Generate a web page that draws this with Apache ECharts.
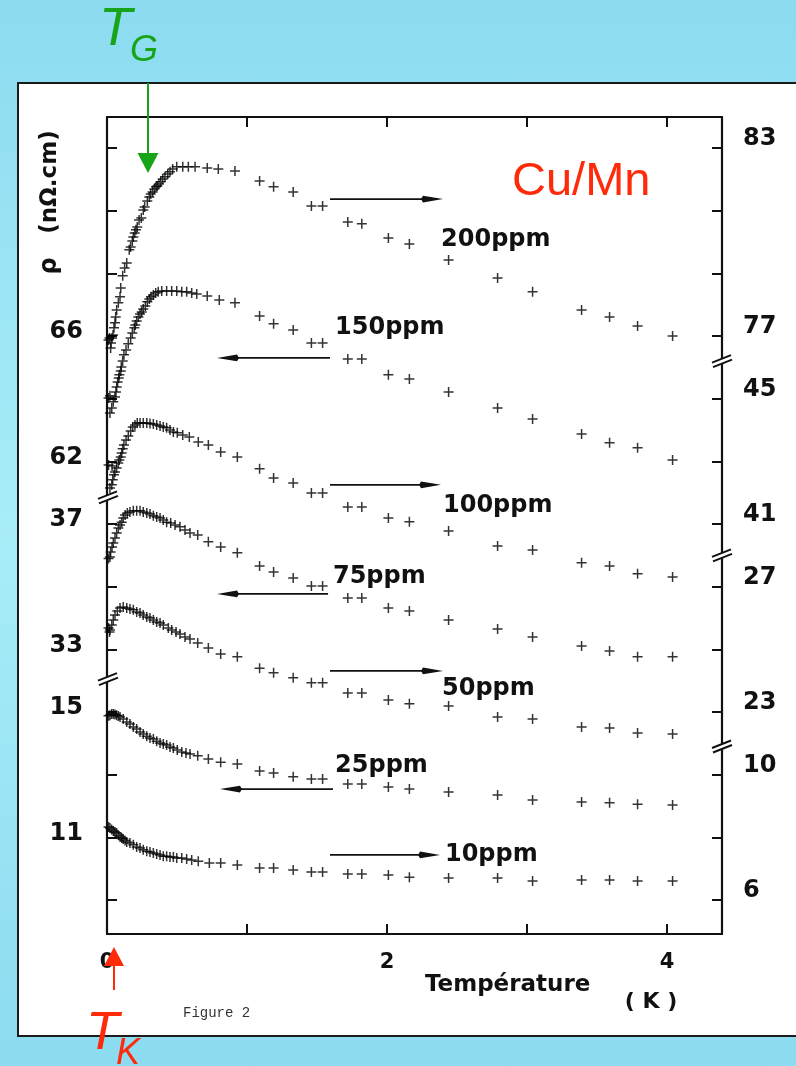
<!DOCTYPE html>
<html>
<head>
<meta charset="utf-8">
<script src="https://cdn.jsdelivr.net/npm/echarts@6/dist/echarts.min.js"></script>
<style>
  html, body { margin: 0; padding: 0; width: 796px; height: 1066px; overflow: hidden;
    background: linear-gradient(to bottom, #8cdbf0 0%, #a8edf8 50%, #8cdbf0 100%); }
  #panel { position: absolute; left: 17px; top: 82px; width: 800px; height: 955px;
    background: #fff; border: 2px solid #1b1b1b; box-sizing: border-box; }
  #chart { position: absolute; left: 0; top: 0; width: 796px; height: 1066px; }
</style>
</head>
<body>
<div id="panel"></div>
<div id="chart"></div>
<script>
// Resistivity ρ (nΩ.cm) versus temperature T (K), one list of [T, ρ] per Mn concentration
const ppm200 = [[0.011,76.87],[0.018,76.94],[0.026,76.62],[0.029,76.78],[0.036,76.94],[0.043,77.03],[0.050,77.26],[0.057,77.42],[0.062,77.61],[0.069,77.83],
  [0.081,78.06],[0.093,78.25],[0.098,78.53],[0.112,78.92],[0.126,79.17],[0.141,79.33],[0.159,79.75],[0.169,79.84],[0.181,80.03],[0.188,80.16],
  [0.198,80.29],[0.207,80.39],[0.216,80.48],[0.229,80.70],[0.245,80.77],[0.259,81.02],[0.269,81.12],[0.288,81.31],[0.302,81.44],[0.312,81.53],
  [0.326,81.60],[0.338,81.69],[0.350,81.76],[0.359,81.79],[0.371,81.85],[0.384,81.92],[0.398,82.01],[0.414,82.08],[0.434,82.17],[0.450,82.24],
  [0.469,82.33],[0.498,82.40],[0.541,82.40],[0.581,82.40],[0.629,82.40],[0.716,82.36],[0.795,82.33],[0.914,82.27],
  [1.09,81.95],[1.19,81.76],[1.33,81.60],[1.46,81.15],[1.54,81.15],[1.72,80.64],[1.82,80.58],[2.01,80.13],[2.16,79.94],[2.44,79.43],
  [2.79,78.85],[3.04,78.41],[3.39,77.83],[3.59,77.61],[3.79,77.32],[4.04,77.00]];

const ppm150 = [[0.011,64.02],[0.021,64.09],[0.021,63.54],[0.034,63.70],[0.045,63.90],[0.057,64.05],[0.064,64.21],[0.069,64.37],[0.076,64.53],[0.084,64.66],
  [0.088,64.76],[0.098,64.88],[0.102,65.01],[0.112,65.20],[0.121,65.40],[0.136,65.55],[0.152,65.75],[0.169,65.94],[0.181,66.10],[0.195,66.26],
  [0.202,66.35],[0.212,66.48],[0.224,66.61],[0.236,66.70],[0.248,66.77],[0.259,66.86],[0.274,66.96],[0.288,67.09],[0.302,67.18],[0.314,67.25],
  [0.331,67.31],[0.348,67.37],[0.366,67.41],[0.391,67.44],[0.426,67.44],[0.462,67.44],[0.498,67.44],[0.534,67.41],[0.569,67.41],[0.605,67.37],
  [0.641,67.34],[0.716,67.28],[0.802,67.15],[0.914,67.06],
  [1.09,66.64],[1.19,66.39],[1.33,66.19],[1.46,65.78],[1.54,65.78],[1.72,65.27],[1.82,65.27],[2.01,64.76],[2.16,64.63],[2.44,64.21],
  [2.79,63.70],[3.04,63.35],[3.39,62.87],[3.59,62.59],[3.79,62.43],[4.04,62.04]];

const ppm100 = [[0.011,42.88],[0.021,42.15],[0.034,42.25],[0.036,42.85],[0.041,42.41],[0.050,42.57],[0.057,42.66],[0.069,42.79],[0.081,42.95],[0.088,43.04],
  [0.098,43.14],[0.105,43.27],[0.112,43.40],[0.121,43.52],[0.136,43.68],[0.152,43.81],[0.169,43.97],[0.184,44.10],[0.200,44.16],[0.216,44.22],
  [0.236,44.22],[0.259,44.22],[0.284,44.22],[0.307,44.21],[0.331,44.19],[0.355,44.16],[0.379,44.13],[0.402,44.10],[0.426,44.07],[0.450,44.00],
  [0.474,43.94],[0.502,43.91],[0.541,43.84],[0.588,43.78],[0.652,43.62],[0.724,43.52],[0.812,43.30],[0.931,43.14],
  [1.09,42.76],[1.19,42.47],[1.33,42.31],[1.46,41.99],[1.54,41.99],[1.72,41.54],[1.82,41.54],[2.01,41.19],[2.16,41.07],[2.44,40.78],
  [2.79,40.30],[3.04,40.17],[3.39,39.76],[3.59,39.66],[3.79,39.41],[4.04,39.31]];

const ppm75 = [[0.011,35.90],[0.021,35.95],[0.026,36.11],[0.036,36.27],[0.045,36.39],[0.057,36.55],[0.069,36.71],[0.081,36.87],[0.093,36.97],[0.105,37.06],
  [0.116,37.19],[0.129,37.29],[0.145,37.35],[0.164,37.38],[0.188,37.42],[0.212,37.42],[0.236,37.42],[0.259,37.38],[0.284,37.35],[0.307,37.32],
  [0.331,37.26],[0.355,37.22],[0.379,37.19],[0.402,37.13],[0.426,37.06],[0.455,37.03],[0.486,36.97],[0.521,36.91],[0.557,36.81],[0.593,36.71],
  [0.648,36.65],[0.724,36.43],[0.812,36.27],[0.931,36.08],
  [1.09,35.66],[1.19,35.47],[1.33,35.28],[1.46,35.02],[1.54,35.02],[1.72,34.64],[1.82,34.64],[2.01,34.32],[2.16,34.22],[2.44,33.94],
  [2.79,33.65],[3.04,33.39],[3.39,33.11],[3.59,32.95],[3.79,32.76],[4.04,32.76]];

const ppm50 = [[0.011,25.68],[0.018,25.55],[0.021,25.62],[0.034,25.78],[0.045,25.94],[0.057,26.10],[0.074,26.22],[0.093,26.32],[0.116,26.35],[0.141,26.32],
  [0.164,26.29],[0.188,26.26],[0.212,26.19],[0.236,26.16],[0.259,26.10],[0.284,26.03],[0.307,26.00],[0.331,25.94],[0.355,25.87],[0.379,25.84],
  [0.402,25.78],[0.438,25.68],[0.462,25.62],[0.493,25.55],[0.521,25.49],[0.557,25.39],[0.593,25.33],[0.648,25.20],[0.724,25.04],[0.812,24.85],
  [0.931,24.76],
  [1.09,24.40],[1.19,24.25],[1.33,24.09],[1.46,23.93],[1.54,23.93],[1.72,23.61],[1.82,23.61],[2.01,23.38],[2.16,23.26],[2.44,23.19],
  [2.79,22.84],[3.04,22.78],[3.39,22.52],[3.59,22.49],[3.79,22.33],[4.04,22.30]];

const ppm25 = [[0.011,14.88],[0.021,14.90],[0.033,14.94],[0.045,14.94],[0.057,14.92],[0.069,14.90],[0.081,14.87],[0.093,14.84],[0.116,14.78],[0.141,14.68],
  [0.164,14.62],[0.188,14.52],[0.212,14.46],[0.236,14.36],[0.259,14.30],[0.284,14.23],[0.307,14.17],[0.331,14.14],[0.355,14.07],[0.379,14.01],
  [0.402,13.98],[0.426,13.95],[0.450,13.88],[0.474,13.85],[0.502,13.79],[0.534,13.72],[0.564,13.69],[0.593,13.66],[0.648,13.60],[0.724,13.50],
  [0.812,13.40],[0.931,13.34],
  [1.09,13.12],[1.19,13.05],[1.33,12.93],[1.46,12.86],[1.54,12.86],[1.72,12.70],[1.82,12.70],[2.01,12.61],[2.16,12.54],[2.44,12.45],
  [2.79,12.35],[3.04,12.19],[3.39,12.13],[3.59,12.10],[3.79,12.06],[4.04,12.03]];

const ppm10 = [[0.011,8.33],[0.021,8.30],[0.033,8.25],[0.045,8.20],[0.057,8.17],[0.069,8.14],[0.081,8.07],[0.093,8.01],[0.105,7.98],[0.116,7.95],
  [0.129,7.90],[0.141,7.85],[0.164,7.82],[0.188,7.76],[0.212,7.69],[0.236,7.66],[0.259,7.60],[0.284,7.56],[0.307,7.53],[0.331,7.50],
  [0.355,7.47],[0.379,7.44],[0.402,7.40],[0.426,7.40],[0.450,7.37],[0.474,7.37],[0.498,7.34],[0.534,7.34],[0.569,7.31],[0.605,7.28],
  [0.652,7.24],[0.731,7.18],[0.812,7.18],[0.931,7.12],
  [1.09,7.02],[1.19,7.02],[1.33,6.96],[1.46,6.89],[1.54,6.89],[1.72,6.83],[1.82,6.83],[2.01,6.80],[2.16,6.73],[2.44,6.70],
  [2.79,6.70],[3.04,6.61],[3.39,6.64],[3.59,6.64],[3.79,6.61],[4.04,6.61]];

// Axis ticks and tick labels
const xTicks = [1, 2, 3, 4];
const xTickLabels = [0, 2, 4];
const leftTicks = [9, 11, 13, 15, 33, 35, 37, 62, 64, 66, 68, 70, 72];
const leftTickLabels = [11, 15, 33, 37, 62, 66];
const rightTicks = [6, 8, 10, 23, 25, 27, 41, 43, 45, 77, 79, 81, 83];
const rightTickLabels = [6, 10, 23, 27, 41, 45, 77, 83];

// Both vertical axes are broken: each stretch starts at ρ = lo and sits `base` levels above the lowest tick
const leftStretches = [{ lo: 9, base: 0 }, { lo: 33, base: 8 }, { lo: 62, base: 14 }];
const rightStretches = [{ lo: 6, base: 0 }, { lo: 23, base: 6 }, { lo: 41, base: 12 }, { lo: 77, base: 18 }];

const curves = [
  { name: '200ppm', data: ppm200, side: 'right', stretch: 3 },
  { name: '150ppm', data: ppm150, side: 'left', stretch: 2 },
  { name: '100ppm', data: ppm100, side: 'right', stretch: 2 },
  { name: '75ppm', data: ppm75, side: 'left', stretch: 1 },
  { name: '50ppm', data: ppm50, side: 'right', stretch: 1 },
  { name: '25ppm', data: ppm25, side: 'left', stretch: 0 },
  { name: '10ppm', data: ppm10, side: 'right', stretch: 0 }
];

function stretchOf(list, v) { let s = list[0]; for (const c of list) if (v >= c.lo) s = c; return s; }
const toLevel = (s, rho) => rho - s.lo + s.base;

function tickSet(ticks, labels, list) {
  const labelMap = {};
  const tickLv = ticks.map(v => toLevel(stretchOf(list, v), v));
  const labelLv = labels.map(v => { const l = toLevel(stretchOf(list, v), v); labelMap[l.toFixed(2)] = String(v); return l; });
  return { tickLv, labelLv, labelMap };
}
const L = tickSet(leftTicks, leftTickLabels, leftStretches);
const R = tickSet(rightTicks, rightTickLabels, rightStretches);

const T_MAX = 4.393, LEVEL_MIN = -1.085, LEVEL_MAX = 24.99;
const INK = '#111';
const RED = '#ff2a0a', GREEN = '#18a418';
const PLUS = 'path://M4.25,0H5.75V4.25H10V5.75H5.75V10H4.25V5.75H0V4.25H4.25Z';
const AXIS_FONT = '"DejaVu Sans", sans-serif';

const axisLine = { show: true, onZero: false, lineStyle: { color: INK, width: 2.2 } };
const tickStyle = { color: INK, width: 2 };

// lift: how far each number sits above its tick
function yAxisFor(side, set, margin, lift) {
  return {
    type: 'value', position: side, min: LEVEL_MIN, max: LEVEL_MAX,
    axisLine: axisLine, splitLine: { show: false },
    axisTick: { show: true, inside: true, length: 10, lineStyle: tickStyle, customValues: set.tickLv },
    axisLabel: {
      customValues: set.labelLv, margin: margin, color: INK, fontFamily: AXIS_FONT,
      fontSize: 24, fontWeight: 'bold', verticalAlign: 'bottom', lineHeight: lift * 2,
      formatter: v => set.labelMap[Number(v).toFixed(2)] || ''
    }
  };
}

const chart = echarts.init(document.getElementById('chart'), null, { renderer: 'canvas' });
chart.setOption({
  animation: false,
  backgroundColor: 'transparent',
  grid: { left: 107, right: 74, top: 117, bottom: 132, containLabel: false },
  xAxis: [
    {
      type: 'value', position: 'bottom', min: 0, max: T_MAX,
      axisLine: axisLine, splitLine: { show: false },
      axisTick: { show: true, inside: true, length: 10, lineStyle: tickStyle, customValues: xTicks },
      axisLabel: { customValues: xTickLabels, margin: 18, color: INK, fontFamily: AXIS_FONT, fontSize: 21, fontWeight: 'bold' }
    },
    {
      type: 'value', position: 'top', min: 0, max: T_MAX,
      axisLine: axisLine, splitLine: { show: false },
      axisTick: { show: true, inside: true, length: 10, lineStyle: tickStyle, customValues: xTicks },
      axisLabel: { show: false }
    }
  ],
  yAxis: [yAxisFor('left', L, 24, 4), yAxisFor('right', R, 21, 9)],
  series: curves.map(c => {
    const s = (c.side === 'left' ? leftStretches : rightStretches)[c.stretch];
    return {
      type: 'scatter', name: c.name, xAxisIndex: 0, yAxisIndex: c.side === 'left' ? 0 : 1,
      data: c.data.map(([t, rho]) => [t, toLevel(s, rho)]),
      symbol: PLUS, symbolSize: 10, itemStyle: { color: '#000' },
      silent: true, emphasis: { disabled: true }
    };
  })
});

// Annotations: arrows pointing each curve to its ρ scale, with the concentration labels
const notes = [
  { text: '200ppm', from: 1.593, to: 2.400, level: 22.37, lx: 2.386, ly: 21.07 },
  { text: '150ppm', from: 1.593, to: 0.786, level: 17.30, lx: 1.629, ly: 18.26 },
  { text: '100ppm', from: 1.593, to: 2.386, level: 13.25, lx: 2.400, ly: 12.58 },
  { text: '75ppm', from: 1.579, to: 0.786, level: 9.77, lx: 1.614, ly: 10.31 },
  { text: '50ppm', from: 1.593, to: 2.400, level: 7.31, lx: 2.393, ly: 6.73 },
  { text: '25ppm', from: 1.614, to: 0.807, level: 3.54, lx: 1.629, ly: 4.28 },
  { text: '10ppm', from: 1.593, to: 2.379, level: 1.44, lx: 2.414, ly: 1.44 }
];
const leftBreaks = [12.85, 7.05];
const rightBreaks = [17.2, 11.0, 4.9];

const px = (t, lv) => chart.convertToPixel({ gridIndex: 0 }, [t, lv]);
const els = [];

function txt(text, x, y, font, fill, align, vAlign, rot) {
  const e = { type: 'text', x: x, y: y, z: 50, silent: true,
    style: { text: text, font: font, fill: fill, align: align, verticalAlign: vAlign,
             textAlign: align, textVerticalAlign: vAlign } };
  if (rot) e.rotation = rot;
  return e;
}

notes.forEach(n => {
  const a = px(n.from, n.level), b = px(n.to, n.level);
  const dir = b[0] > a[0] ? 1 : -1;
  const baseX = b[0] - dir * 20;
  els.push({ type: 'line', z: 40, silent: true, shape: { x1: a[0], y1: a[1], x2: baseX, y2: b[1] },
    style: { stroke: INK, lineWidth: 1.7 } });
  els.push({ type: 'polygon', z: 40, silent: true,
    shape: { points: [[b[0], b[1]], [baseX, b[1] - 3.4], [baseX - dir * 2, b[1]], [baseX, b[1] + 3.4]] },
    style: { fill: INK } });
  const l = px(n.lx, n.ly);
  els.push(txt(n.text, l[0], l[1], 'bold 24px ' + AXIS_FONT, INK, 'left', 'middle'));
});

function breakMark(cx, cy) {
  els.push({ type: 'polygon', z: 45, silent: true,
    shape: { points: [[cx - 9, cy + 6], [cx + 9, cy - 1], [cx + 9, cy - 6], [cx - 9, cy + 1]] },
    style: { fill: '#fff' } });
  els.push({ type: 'line', z: 46, silent: true, shape: { x1: cx - 9, y1: cy + 6, x2: cx + 10, y2: cy - 1.5 },
    style: { stroke: INK, lineWidth: 2 } });
  els.push({ type: 'line', z: 46, silent: true, shape: { x1: cx - 10, y1: cy + 1.5, x2: cx + 9, y2: cy - 6 },
    style: { stroke: INK, lineWidth: 2 } });
}
leftBreaks.forEach(lv => { const p = px(0, lv); breakMark(p[0] + 1, p[1]); });
rightBreaks.forEach(lv => { const p = px(T_MAX, lv); breakMark(p[0], p[1]); });

// Axis titles
const origin = px(0, LEVEL_MIN);
els.push(txt('(nΩ.cm)', 50, 182, 'bold 23px ' + AXIS_FONT, INK, 'center', 'middle', Math.PI / 2));
els.push(txt('ρ', 50, 266, 'bold 24px ' + AXIS_FONT, INK, 'center', 'middle', Math.PI / 2));
els.push(txt('Température', px(2.271, 0)[0], origin[1] + 51, 'bold 23px ' + AXIS_FONT, INK, 'left', 'middle'));
els.push(txt('( K )', px(3.886, 0)[0], origin[1] + 68, 'bold 22px ' + AXIS_FONT, INK, 'center', 'middle'));
els.push(txt('Figure 2', 183, origin[1] + 79, '14px "Liberation Mono", monospace', '#333', 'left', 'middle'));
els.push(txt('Cu/Mn', 512, 182, '47px "Liberation Sans", Arial, sans-serif', RED, 'left', 'middle'));

// Glass temperature T_G marker (green, from above)
const gx = px(0.293, 0)[0];
const gTip = px(0, 23.2)[1];
els.push({ type: 'line', z: 60, silent: true, shape: { x1: gx, y1: 83, x2: gx, y2: gTip - 18 },
  style: { stroke: GREEN, lineWidth: 2 } });
els.push({ type: 'polygon', z: 60, silent: true,
  shape: { points: [[gx - 10.5, gTip - 20], [gx + 10.5, gTip - 20], [gx, gTip]] }, style: { fill: GREEN } });
els.push(txt('T', 99, 30, 'italic 54px "Liberation Sans", Arial, sans-serif', GREEN, 'left', 'middle'));
els.push(txt('G', 130, 51, 'italic 36px "Liberation Sans", Arial, sans-serif', GREEN, 'left', 'middle'));

// Kondo temperature T_K marker (red, from below)
const kx = px(0.05, 0)[0];
const kTip = origin[1] + 13;
els.push({ type: 'polygon', z: 60, silent: true,
  shape: { points: [[kx, kTip], [kx - 10, kTip + 19], [kx + 10, kTip + 19]] }, style: { fill: RED } });
els.push({ type: 'line', z: 60, silent: true, shape: { x1: kx, y1: kTip + 18, x2: kx, y2: kTip + 43 },
  style: { stroke: RED, lineWidth: 2 } });
els.push(txt('T', 86, 1034, 'italic 54px "Liberation Sans", Arial, sans-serif', RED, 'left', 'middle'));
els.push(txt('K', 116, 1054, 'italic 36px "Liberation Sans", Arial, sans-serif', RED, 'left', 'middle'));

chart.setOption({ graphic: { elements: els } });
</script>
</body>
</html>
